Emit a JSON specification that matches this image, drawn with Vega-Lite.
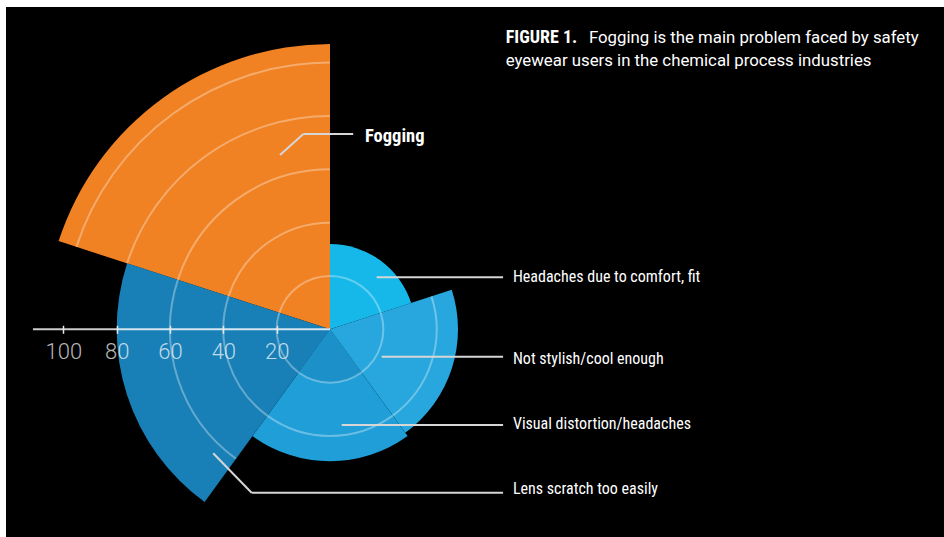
{
  "$schema": "https://vega.github.io/schema/vega-lite/v6.json",
  "width": 938,
  "height": 530,
  "padding": {"left": 6, "top": 7, "right": 0, "bottom": 0},
  "autosize": {"type": "none"},
  "background": "#ffffff",
  "config": {"view": {"fill": "#000000", "stroke": null}},
  "resolve": {"axis": {"x": "independent", "y": "independent"}},
  "datasets": {
    "wedges": [
      {"problem": "Fogging", "start": 288, "end": 360, "value": 107},
      {"problem": "Headaches due to comfort, fit", "start": 0, "end": 72, "value": 32},
      {"problem": "Not stylish/cool enough", "start": 72, "end": 144, "value": 48},
      {"problem": "Visual distortion/headaches", "start": 144, "end": 216, "value": 49.5},
      {"problem": "Lens scratch too easily", "start": 216, "end": 288, "value": 80}
    ],
    "inner": [
      {"problem": "Visual distortion/headaches", "start": 144, "end": 216, "ring": 20}
    ],
    "rings": [
      {"start": 288, "end": 360, "ring": 20},
      {"start": 288, "end": 360, "ring": 40},
      {"start": 288, "end": 360, "ring": 60},
      {"start": 288, "end": 360, "ring": 80},
      {"start": 288, "end": 360, "ring": 100},
      {"start": 0, "end": 72, "ring": 20},
      {"start": 72, "end": 144, "ring": 20},
      {"start": 72, "end": 144, "ring": 40},
      {"start": 144, "end": 216, "ring": 20},
      {"start": 144, "end": 216, "ring": 40},
      {"start": 216, "end": 288, "ring": 20},
      {"start": 216, "end": 288, "ring": 40},
      {"start": 216, "end": 288, "ring": 60}
    ],
    "axisLine": [
      {"from": -111.4, "to": 0}
    ],
    "leaders": [
      {"x1": -18.75, "y1": 65.4, "x2": -10.0, "y2": 73.2},
      {"x1": -10.0, "y1": 73.2, "x2": 8.7, "y2": 73.2},
      {"x1": 17.5, "y1": 19.5, "x2": 64.9, "y2": 19.5},
      {"x1": 19.4, "y1": -10.3, "x2": 64.9, "y2": -10.3},
      {"x1": 4.4, "y1": -35.9, "x2": 64.9, "y2": -35.9},
      {"x1": -43.8, "y1": -46.5, "x2": -29.4, "y2": -61.3},
      {"x1": -29.4, "y1": -61.3, "x2": 64.9, "y2": -61.3}
    ],
    "labels": [
      {"text": "Headaches due to comfort, fit", "x": 68.6, "y": 19.5},
      {"text": "Not stylish/cool enough", "x": 68.6, "y": -11.0},
      {"text": "Visual distortion/headaches", "x": 68.6, "y": -35.7},
      {"text": "Lens scratch too easily", "x": 68.6, "y": -60.0}
    ],
    "mainLabel": [
      {"text": "Fogging", "x": 13.1, "y": 72.5}
    ],
    "titleBold": [
      {"text": "FIGURE 1.", "x": 65.9, "y": 107.25}
    ],
    "titleRegular": [
      {"text": "Fogging is the main problem faced by safety", "x": 97.1, "y": 107.25},
      {"text": "eyewear users in the chemical process industries", "x": 65.9, "y": 98.9}
    ]
  },
  "layer": [
    {
      "data": {"name": "wedges"},
      "mark": {"type": "arc"},
      "encoding": {
        "x": {"datum": 0, "type": "quantitative", "scale": {"domain": [-121.5, 230.25], "nice": false, "zero": false}, "axis": null},
        "y": {"datum": 0, "type": "quantitative", "scale": {"domain": [-77.89, 120.86], "nice": false, "zero": false}, "axis": null},
        "theta": {"field": "start", "type": "quantitative", "stack": null, "scale": {"domain": [0, 360], "range": [0, 6.283185307179586], "nice": false, "zero": false}},
        "theta2": {"field": "end"},
        "radius": {"field": "value", "type": "quantitative", "scale": {"type": "linear", "domain": [0, 100], "range": [0, 266.67], "nice": false, "zero": true}},
        "color": {
          "field": "problem", "type": "nominal", "legend": null,
          "scale": {
            "domain": ["Fogging", "Headaches due to comfort, fit", "Not stylish/cool enough", "Visual distortion/headaches", "Lens scratch too easily"],
            "range": ["#f08224", "#16b8ea", "#27a7dd", "#1f9ed7", "#1980b7"]
          }
        }
      }
    },
    {
      "data": {"name": "inner"},
      "mark": {"type": "arc", "color": "#1b90c9"},
      "encoding": {
        "x": {"datum": 0, "type": "quantitative", "scale": {"domain": [-121.5, 230.25], "nice": false, "zero": false}, "axis": null},
        "y": {"datum": 0, "type": "quantitative", "scale": {"domain": [-77.89, 120.86], "nice": false, "zero": false}, "axis": null},
        "theta": {"field": "start", "type": "quantitative", "stack": null, "scale": {"domain": [0, 360], "range": [0, 6.283185307179586], "nice": false, "zero": false}},
        "theta2": {"field": "end"},
        "radius": {"field": "ring", "type": "quantitative", "scale": {"type": "linear", "domain": [0, 100], "range": [0, 266.67], "nice": false, "zero": true}}
      }
    },
    {
      "data": {"name": "rings"},
      "mark": {"type": "arc", "filled": false, "stroke": "#ffffff", "strokeOpacity": 0.33, "strokeWidth": 2},
      "encoding": {
        "x": {"datum": 0, "type": "quantitative", "scale": {"domain": [-121.5, 230.25], "nice": false, "zero": false}, "axis": null},
        "y": {"datum": 0, "type": "quantitative", "scale": {"domain": [-77.89, 120.86], "nice": false, "zero": false}, "axis": null},
        "theta": {"field": "start", "type": "quantitative", "stack": null, "scale": {"domain": [0, 360], "range": [0, 6.283185307179586], "nice": false, "zero": false}},
        "theta2": {"field": "end"},
        "radius": {"field": "ring", "type": "quantitative", "scale": {"type": "linear", "domain": [0, 100], "range": [0, 266.67], "nice": false, "zero": true}},
        "radius2": {"field": "ring"}
      }
    },
    {
      "data": {"name": "axisLine"},
      "mark": {"type": "rule", "color": "#ffffff", "opacity": 0.8, "strokeWidth": 2},
      "encoding": {
        "x": {
          "field": "from", "type": "quantitative",
          "scale": {"domain": [-121.5, 230.25], "nice": false, "zero": false},
          "axis": {
            "values": [-100, -80, -60, -40, -20],
            "labelExpr": "abs(datum.value)",
            "orient": "bottom",
            "offset": -211.7,
            "zindex": 1,
            "domain": false,
            "grid": false,
            "ticks": true,
            "tickSize": 8,
            "tickWidth": 1.5,
            "tickColor": "#e6e6e6",
            "labelFont": "Roboto",
            "labelFontWeight": 300,
            "labelFontSize": 22,
            "labelColor": "#ffffff",
            "labelOpacity": 0.72,
            "labelPadding": 8,
            "labelFlush": false,
            "labelOverlap": false,
            "title": null
          }
        },
        "x2": {"field": "to"},
        "y": {"datum": 0, "type": "quantitative", "scale": {"domain": [-77.89, 120.86], "nice": false, "zero": false}, "axis": null}
      }
    },
    {
      "data": {"name": "leaders"},
      "mark": {"type": "rule", "color": "#d6d6d6", "strokeWidth": 2},
      "encoding": {
        "x": {"field": "x1", "type": "quantitative", "scale": {"domain": [-121.5, 230.25], "nice": false, "zero": false}, "axis": null},
        "x2": {"field": "x2"},
        "y": {"field": "y1", "type": "quantitative", "scale": {"domain": [-77.89, 120.86], "nice": false, "zero": false}, "axis": null},
        "y2": {"field": "y2"}
      }
    },
    {
      "data": {"name": "labels"},
      "mark": {"type": "text", "align": "left", "baseline": "middle", "font": "Roboto Condensed, DejaVu Sans Condensed, Liberation Sans, sans-serif", "fontSize": 16, "color": "#ffffff"},
      "encoding": {
        "x": {"field": "x", "type": "quantitative", "scale": {"domain": [-121.5, 230.25], "nice": false, "zero": false}, "axis": null},
        "y": {"field": "y", "type": "quantitative", "scale": {"domain": [-77.89, 120.86], "nice": false, "zero": false}, "axis": null},
        "text": {"field": "text"}
      }
    },
    {
      "data": {"name": "mainLabel"},
      "mark": {"type": "text", "align": "left", "baseline": "middle", "font": "Roboto Condensed, DejaVu Sans Condensed, Liberation Sans, sans-serif", "fontSize": 18.5, "fontWeight": "bold", "color": "#ffffff"},
      "encoding": {
        "x": {"field": "x", "type": "quantitative", "scale": {"domain": [-121.5, 230.25], "nice": false, "zero": false}, "axis": null},
        "y": {"field": "y", "type": "quantitative", "scale": {"domain": [-77.89, 120.86], "nice": false, "zero": false}, "axis": null},
        "text": {"field": "text"}
      }
    },
    {
      "data": {"name": "titleBold"},
      "mark": {"type": "text", "align": "left", "baseline": "alphabetic", "font": "Roboto Condensed, DejaVu Sans Condensed, Liberation Sans, sans-serif", "fontSize": 18, "fontWeight": "bold", "color": "#ffffff"},
      "encoding": {
        "x": {"field": "x", "type": "quantitative", "scale": {"domain": [-121.5, 230.25], "nice": false, "zero": false}, "axis": null},
        "y": {"field": "y", "type": "quantitative", "scale": {"domain": [-77.89, 120.86], "nice": false, "zero": false}, "axis": null},
        "text": {"field": "text"}
      }
    },
    {
      "data": {"name": "titleRegular"},
      "mark": {"type": "text", "align": "left", "baseline": "alphabetic", "font": "Roboto, Liberation Sans, sans-serif", "fontSize": 16.8, "color": "#ffffff"},
      "encoding": {
        "x": {"field": "x", "type": "quantitative", "scale": {"domain": [-121.5, 230.25], "nice": false, "zero": false}, "axis": null},
        "y": {"field": "y", "type": "quantitative", "scale": {"domain": [-77.89, 120.86], "nice": false, "zero": false}, "axis": null},
        "text": {"field": "text"}
      }
    }
  ]
}
